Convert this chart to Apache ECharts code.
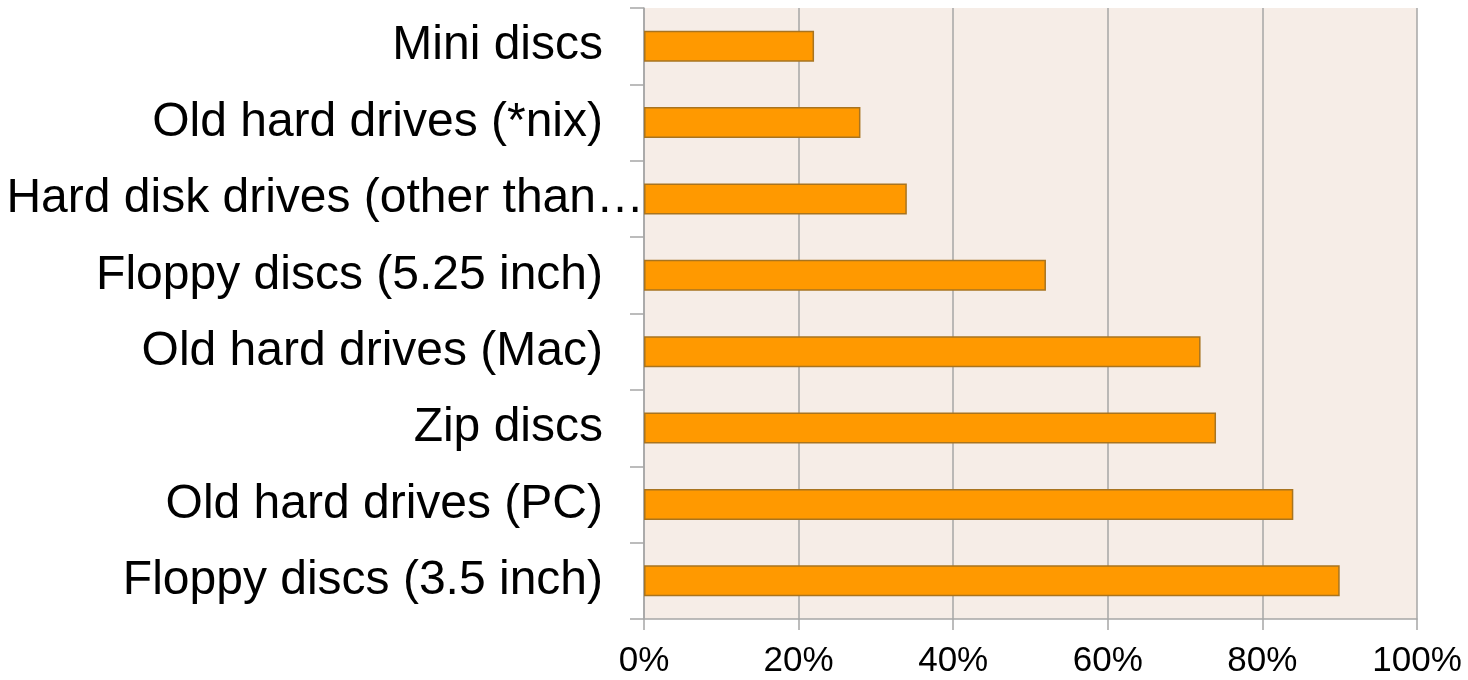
<!DOCTYPE html>
<html>
<head>
<meta charset="utf-8">
<script src="https://cdn.jsdelivr.net/npm/echarts@6/dist/echarts.min.js"></script>
<style>
  html, body { margin: 0; padding: 0; background: #ffffff; }
  #chart { width: 1468px; height: 680px; }
</style>
</head>
<body>
<div id="chart"></div>
<script>
// Media types, listed top to bottom
const categories = [
  'Mini discs',
  'Old hard drives (*nix)',
  'Hard disk drives (other than\u2026',
  'Floppy discs (5.25 inch)',
  'Old hard drives (Mac)',
  'Zip discs',
  'Old hard drives (PC)',
  'Floppy discs (3.5 inch)'
];
// Share of respondents, percent
const values = [22, 28, 34, 52, 72, 74, 84, 90];
const xTicks = [0, 20, 40, 60, 80, 100];

const chart = echarts.init(document.getElementById('chart'), null, { renderer: 'canvas' });
const font = '"Liberation Sans", Arial, sans-serif';
const gridColor = '#a6a6a6';

chart.setOption({
  animation: false,
  grid: {
    left: 644, right: 51, top: 8, bottom: 61,
    show: true, backgroundColor: '#f6ede7', borderWidth: 0,
    containLabel: false
  },
  xAxis: {
    type: 'value',
    min: xTicks[0], max: xTicks[xTicks.length - 1], interval: 20,
    axisLine: { show: true, lineStyle: { color: gridColor, width: 1.5 } },
    axisTick: { show: true, length: 11, lineStyle: { color: gridColor, width: 1.5 } },
    splitLine: { show: true, lineStyle: { color: gridColor, width: 1.5 } },
    axisLabel: {
      formatter: v => v + '%',
      fontFamily: font, fontSize: 35, color: '#000', margin: 25
    }
  },
  yAxis: {
    type: 'category',
    data: categories,
    inverse: true,
    axisLine: { show: true, lineStyle: { color: gridColor, width: 1.5 } },
    axisTick: { show: true, length: 14, lineStyle: { color: gridColor, width: 1.5 } },
    splitLine: { show: false },
    axisLabel: {
      margin: 0,
      fontFamily: font, fontSize: 48, color: '#000',
      formatter: v => v.endsWith('\u2026') ? '{l|' + v + '}' : '{n|' + v + '}',
      rich: {
        n: { fontFamily: font, fontSize: 48, color: '#000', padding: [0, 41, 0, 0] },
        l: { fontFamily: font, fontSize: 48, color: '#000', padding: [0, 0, 0, 0] }
      }
    }
  },
  series: [{
    type: 'bar',
    data: values,
    barWidth: 31,
    itemStyle: { color: '#ff9900', borderColor: '#a87420', borderWidth: 1.5 }
  }]
});
</script>
</body>
</html>
